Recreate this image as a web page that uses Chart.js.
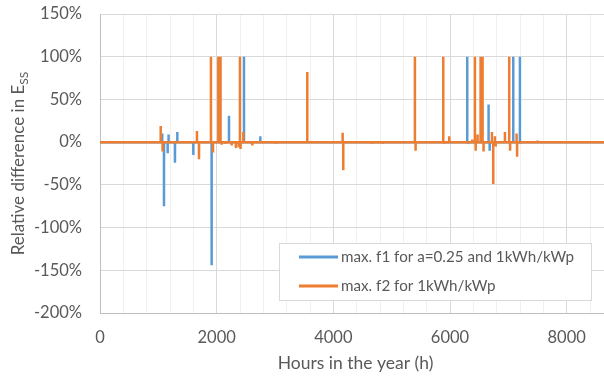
<!DOCTYPE html>
<html>
<head>
<meta charset="utf-8">
<script src="https://cdn.jsdelivr.net/npm/chart.js@4.4.1/dist/chart.umd.min.js"></script>
<style>
  html, body { margin: 0; padding: 0; background: #fff; overflow: hidden; }
  #wrap { width: 604px; height: 376px; overflow: hidden; }
</style>
</head>
<body>
<div id="wrap"><canvas id="ess-chart" width="612" height="376"></canvas></div>
<script>
const HOURS_IN_YEAR = 8760;

// hours where f1 deviates from zero, and the relative difference (%) there
const f1Hours  = [1066, 1097, 1160, 1175, 1285, 1325, 1600, 1914, 2211, 2468, 2748, 6295, 6310, 6661, 6680, 6760, 7084, 7198, 7210];
const f1Values = [  10,  -75,  -13,    9,  -24,   12,  -15, -144,   31,  100,    7,  100,   -2,   44,  -10,   -3,  100,  100,   -2];

// same for f2
const f2Hours  = [1040, 1073, 1662, 1697, 1902, 1937, 2028, 2066, 2085, 2150, 2257, 2330, 2380, 2399, 2410, 2457, 2611, 3027, 3553, 4159, 4170, 4673, 4855, 5398, 5410, 5884, 5900, 5987, 6200, 6380, 6427, 6440, 6473, 6524, 6558, 6575, 6718, 6741, 6770, 6785, 6941, 7015, 7030, 7141, 7150, 7500];
const f2Values = [  19,  -11,   13,  -20,  100,  -12,  100,  100,   -3,   -2,   -4,   -7,   -6,  100,   -8,   12,   -4,   -2,   82,   11,  -33,   -2,   -2,  100,  -10,  100,   -2,    7,   -1,    3,  100,  -10,    9,  100,  100,  -11,   12,  -49,    7,   -5,   12,  100,  -10,   10,  -17,    2];

const xTicks = [0, 400, 800, 1200, 1600, 2000, 2400, 2800, 3200, 3600, 4000, 4400, 4800, 5200, 5600, 6000, 6400, 6800, 7200, 7600, 8000, 8400];
const yTicks = [-200, -150, -100, -50, 0, 50, 100, 150];

const labels = ["max. f1 for a=0.25 and 1kWh/kWp", "max. f2 for 1kWh/kWp"];

const FONT = "Lato";
const TEXT = "#595959";

// series is zero everywhere except the listed hours
function toSeries(hours, values) {
  const pts = [{ x: 0, y: 0 }];
  hours.forEach((h, i) => {
    pts.push({ x: h - 1, y: 0 });
    pts.push({ x: h, y: values[i] });
    pts.push({ x: h + 1, y: 0 });
  });
  pts.push({ x: HOURS_IN_YEAR, y: 0 });
  return pts;
}

// titles (with subscript) and the boxed legend
const decorations = {
  id: "decorations",
  afterDraw(chart) {
    const ctx = chart.ctx;
    const area = chart.chartArea;
    ctx.save();
    ctx.fillStyle = TEXT;

    // x title
    ctx.font = `17.5px ${FONT}`;
    ctx.textAlign = "center";
    ctx.textBaseline = "middle";
    ctx.fillText("Hours in the year (h)", (area.left + area.right) / 2, 363);

    // y title, rotated, with "SS" subscript
    const main = "Relative difference in E";
    const sub = "SS";
    ctx.font = `17px ${FONT}`;
    const wMain = ctx.measureText(main).width;
    ctx.font = `12px ${FONT}`;
    const wSub = ctx.measureText(sub).width;
    ctx.translate(19, (area.top + area.bottom) / 2);
    ctx.rotate(-Math.PI / 2);
    const start = -(wMain + wSub) / 2;
    ctx.textAlign = "left";
    ctx.font = `17px ${FONT}`;
    ctx.fillText(main, start, 0);
    ctx.font = `12px ${FONT}`;
    ctx.fillText(sub, start + wMain, 5);
    ctx.restore();

    // legend box
    ctx.save();
    const bx = 279.5, by = 243.5, bw = 312, bh = 57;
    ctx.fillStyle = "#ffffff";
    ctx.fillRect(bx, by, bw, bh);
    ctx.strokeStyle = "#d9d9d9";
    ctx.lineWidth = 1;
    ctx.strokeRect(bx, by, bw, bh);
    const colors = [chart.data.datasets[0].borderColor, chart.data.datasets[1].borderColor];
    const rowY = [257, 286];
    ctx.font = `15.2px ${FONT}`;
    ctx.textBaseline = "middle";
    ctx.textAlign = "left";
    labels.forEach((lab, i) => {
      ctx.strokeStyle = colors[i];
      ctx.lineWidth = 3;
      ctx.beginPath();
      ctx.moveTo(299, rowY[i]);
      ctx.lineTo(338, rowY[i]);
      ctx.stroke();
      ctx.fillStyle = TEXT;
      ctx.fillText(lab, 341, rowY[i]);
    });
    ctx.restore();
  }
};

// keep tick labels from pushing the plot area around
function noOverflow(scale) {
  scale.paddingTop = 0;
  scale.paddingBottom = 0;
  scale.paddingLeft = 0;
  scale.paddingRight = 0;
}

new Chart(document.getElementById("ess-chart"), {
  type: "line",
  data: {
    datasets: [
      {
        label: labels[0],
        data: toSeries(f1Hours, f1Values),
        borderColor: "#5b9bd5",
        borderWidth: 2.5,
        borderJoinStyle: "bevel",
        pointRadius: 0,
        tension: 0,
        order: 1,
      },
      {
        label: labels[1],
        data: toSeries(f2Hours, f2Values),
        borderColor: "#ed7d31",
        borderWidth: 2.5,
        borderJoinStyle: "bevel",
        pointRadius: 0,
        tension: 0,
        order: 0,
      },
    ],
  },
  options: {
    responsive: false,
    devicePixelRatio: 1,
    animation: false,
    layout: { padding: { top: 14, right: 1, left: 0, bottom: 0 } },
    plugins: { legend: { display: false }, tooltip: { enabled: false } },
    scales: {
      x: {
        type: "linear",
        min: 0,
        max: HOURS_IN_YEAR,
        afterBuildTicks: (scale) => { scale.ticks = xTicks.map(v => ({ value: v })); },
        afterFit: (scale) => { scale.height = 63; noOverflow(scale); },
        grid: {
          drawTicks: false,
          color: (c) => (c.tick && c.tick.value % 2000 === 0 ? "#d9d9d9" : "#f0f0f0"),
        },
        border: { color: "#bfbfbf" },
        ticks: {
          autoSkip: false,
          maxRotation: 0,
          padding: 15,
          color: TEXT,
          font: { family: FONT, size: 16.5 },
          callback: (v) => (v % 2000 === 0 ? String(v) : ""),
        },
      },
      y: {
        min: -200,
        max: 150,
        afterBuildTicks: (scale) => { scale.ticks = yTicks.map(v => ({ value: v })); },
        afterFit: (scale) => { scale.width = 100; noOverflow(scale); },
        grid: { drawTicks: false, color: "#d9d9d9" },
        border: { color: "#bfbfbf" },
        ticks: {
          padding: 18,
          color: TEXT,
          font: { family: FONT, size: 16.5 },
          callback: (v) => v + "%",
        },
      },
    },
  },
  plugins: [decorations],
});
</script>
</body>
</html>
